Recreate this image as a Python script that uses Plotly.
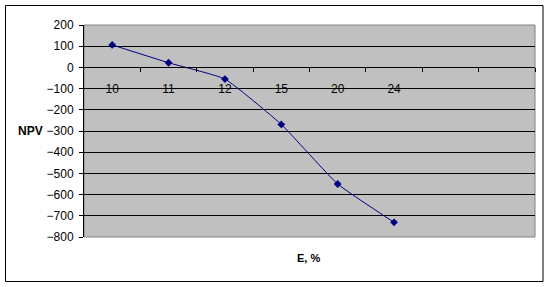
import plotly.graph_objects as go

categories = ["10", "11", "12", "15", "20", "24"]
npv = [106, 22, -55, -269, -550, -731]
n_slots = 8  # category slots on the x axis (last two empty)
y_min, y_max = -800, 200

W, H = 550, 287
L, R, T, B = 84, 15, 25, 50
pw, ph = W - L - R, H - T - B

xs = list(range(len(categories)))

fig = go.Figure()
fig.add_trace(go.Scatter(
    x=xs, y=npv, mode="lines+markers",
    line=dict(color="#000080", width=1, shape="spline", smoothing=0.4),
    marker=dict(symbol="diamond", size=6, color="#000080"),
    showlegend=False, hoverinfo="skip",
))

font = dict(family="Arial, Liberation Sans, sans-serif", size=12, color="black")

fig.update_layout(
    width=W, height=H,
    margin=dict(l=L, r=R, t=T, b=B),
    paper_bgcolor="white", plot_bgcolor="#C0C0C0",
    font=font,
    xaxis=dict(
        range=[-0.5, n_slots - 0.5],
        anchor="free", position=(0 - y_min) / (y_max - y_min),
        tickmode="array", tickvals=xs, ticktext=categories,
        ticks="outside", ticklen=4, tickcolor="rgba(0,0,0,0)",
        ticklabelstandoff=6,
        minor=dict(tickmode="array", tickvals=[i + 0.5 for i in range(n_slots)],
                   ticks="outside", ticklen=4, tickcolor="black", showgrid=False),
        showgrid=False, zeroline=False, showline=True, linecolor="black", linewidth=1,
        fixedrange=True,
    ),
    yaxis=dict(
        range=[y_min, y_max], dtick=100,
        ticks="outside", ticklen=4, tickcolor="black",
        showgrid=True, gridcolor="black", gridwidth=1,
        zeroline=False, showline=True, linecolor="black", linewidth=1,
        ticklabelstandoff=3,
    ),
    shapes=[
        dict(type="rect", xref="paper", yref="paper", x0=0, x1=1, y0=0, y1=1,
             line=dict(color="#808080", width=1), layer="below"),
        dict(type="rect", xref="paper", yref="paper",
             x0=(5.5 - L) / pw, x1=(543 - L) / pw,
             y0=(T + ph - 281.5) / ph, y1=(T + ph - 5.5) / ph,
             line=dict(color="black", width=1)),
    ],
    annotations=[
        dict(text="<b>NPV</b>", xref="paper", yref="y", x=(30 - L) / pw, y=-300,
             showarrow=False, xanchor="center", yanchor="middle", font=font),
        dict(text="<b>E, %</b>", xref="paper", yref="paper", x=(308 - L) / pw,
             y=(T + ph - 258) / ph, showarrow=False, xanchor="center",
             yanchor="middle", font=dict(family=font["family"], size=11, color="black")),
    ],
)

fig.write_html("out.html")
